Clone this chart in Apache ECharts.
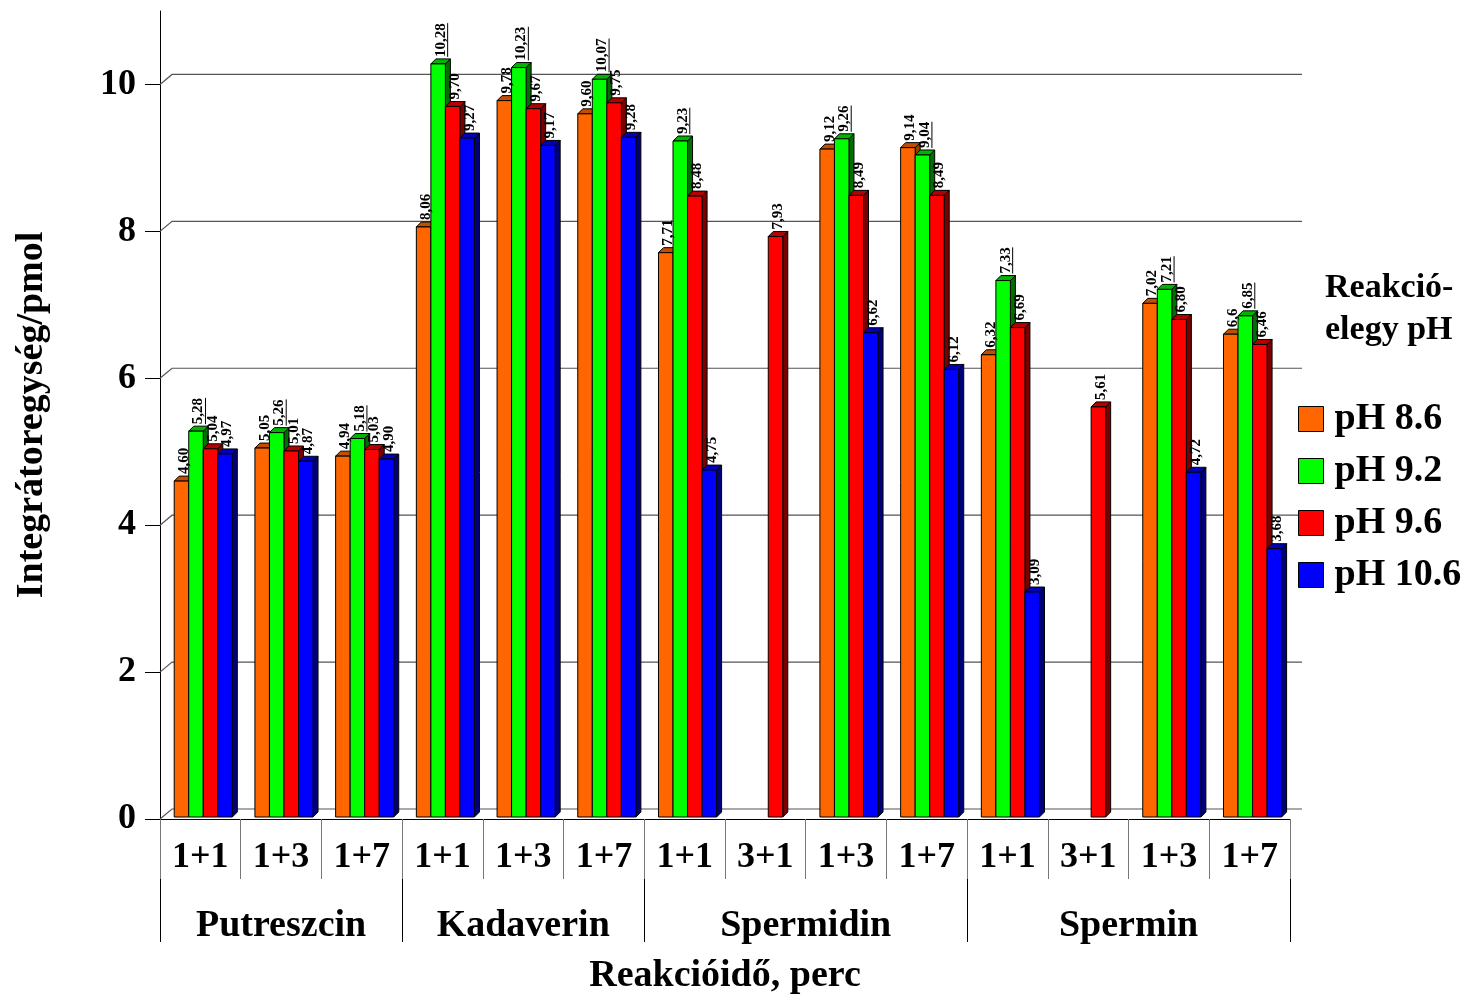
<!DOCTYPE html>
<html><head><meta charset="utf-8">
<script src="https://cdn.jsdelivr.net/npm/echarts@6/dist/echarts.min.js"></script>
<style>html,body{margin:0;padding:0;background:#fff}#c{width:1469px;height:1000px}</style>
</head><body><div id="c"></div>
<script>
// ---- data ----
const categories = ['1+1','1+3','1+7','1+1','1+3','1+7','1+1','3+1','1+3','1+7','1+1','3+1','1+3','1+7'];
const groupNames = ['Putreszcin','Kadaverin','Spermidin','Spermin'];
const groupSizes = [3, 3, 4, 4];
const seriesNames = ['pH 8.6','pH 9.2','pH 9.6','pH 10.6'];
const ph86  = [4.60, 5.05, 4.94, 8.06, 9.78, 9.60, 7.71, null, 9.12, 9.14, 6.32, null, 7.02, 6.6];
const ph92  = [5.28, 5.26, 5.18, 10.28, 10.23, 10.07, 9.23, null, 9.26, 9.04, 7.33, null, 7.21, 6.85];
const ph96  = [5.04, 5.01, 5.03, 9.70, 9.67, 9.75, 8.48, 7.93, 8.49, 8.49, 6.69, 5.61, 6.80, 6.46];
const ph106 = [4.97, 4.87, 4.90, 9.27, 9.17, 9.28, 4.75, null, 6.62, 6.12, 3.09, null, 4.72, 3.68];
const yTicks = [0, 2, 4, 6, 8, 10];
const labelOverrides = { '0-13': '6,6' };   // label printed with one decimal
const underlinedSeries = [1];               // pH 9.2 labels are underlined
const yTitle = 'Integrátoregység/pmol';
const xTitle = 'Reakcióidő, perc';
const legendTitle = 'Reakció-\nelegy pH';

// ---- styles ----
const FONT = '"Liberation Serif", "Times New Roman", serif';
const frontColors = ['#ff6600', '#00ff00', '#ff0000', '#0000ff'];
const topColors   = ['#c24e00', '#00b400', '#b40000', '#0000b4'];
const sideColors  = ['#9a3e00', '#006e00', '#7a0000', '#00007a'];
const DX = 5, DY = 5, GDX = 12, GDY = 10;
const LABEL_FONT = 'bold 15px ' + FONT;
const mctx = document.createElement('canvas').getContext('2d');
mctx.font = LABEL_FONT;

const allSeries = [ph86, ph92, ph96, ph106];
function fmt(v, s, i) {
  const k = s + '-' + i;
  if (labelOverrides[k]) return labelOverrides[k];
  return v.toFixed(2).replace('.', ',');
}

// group boundaries / centers on a 0..N value scale
const bounds = [0]; const centers = [];
groupSizes.forEach(n => { const b = bounds[bounds.length - 1]; centers.push(b + n / 2); bounds.push(b + n); });

function geom(api, s) {
  const ci = api.value(0), v = api.value(1);
  if (v == null || isNaN(v)) return null;
  const catW = api.size([1, 0])[0];
  const bw = catW * 0.18;
  const c = api.coord([ci, 0]);
  const t = api.coord([ci, v]);
  const x0 = c[0] + (s - 1.8) * bw;
  return { ci, v, bw, x0, by: c[1] - 2, ty: t[1] };
}

function barRender(s) {
  return function (params, api) {
    const g = geom(api, s);
    if (!g) return null;
    const { bw, x0, by, ty } = g;
    const stroke = { stroke: '#000', lineWidth: 1 };
    return {
      type: 'group',
      children: [
        { type: 'polygon', shape: { points: [[x0 + bw, ty], [x0 + bw + DX, ty - DY], [x0 + bw + DX, by - DY], [x0 + bw, by]] },
          style: Object.assign({ fill: sideColors[s] }, stroke) },
        { type: 'polygon', shape: { points: [[x0, ty], [x0 + bw, ty], [x0 + bw + DX, ty - DY], [x0 + DX, ty - DY]] },
          style: Object.assign({ fill: topColors[s] }, stroke) },
        { type: 'rect', shape: { x: x0, y: ty, width: bw, height: by - ty },
          style: Object.assign({ fill: frontColors[s] }, stroke) }
      ]
    };
  };
}

function labelRender(s) {
  return function (params, api) {
    const g = geom(api, s);
    if (!g) return null;
    const txt = fmt(g.v, s, g.ci);
    const w = mctx.measureText(txt).width;
    const children = [{ type: 'text', style: { text: txt, font: LABEL_FONT, fill: '#000', align: 'left', verticalAlign: 'middle' } }];
    if (underlinedSeries.indexOf(s) >= 0) {
      children.push({ type: 'line', shape: { x1: 0, y1: 7, x2: w, y2: 7 }, style: { stroke: '#000', lineWidth: 1 } });
    }
    return { type: 'group', x: g.x0 + g.bw / 2 + DX / 2, y: g.ty - DY - 2, rotation: Math.PI / 2, children };
  };
}

const series = [];
// back-wall grid lines
series.push({
  type: 'custom', name: 'grid', silent: true, z: 1,
  data: yTicks.map(v => [0, v]),
  renderItem: function (params, api) {
    const cs = params.coordSys;
    const y = api.coord([0, api.value(1)])[1];
    return { type: 'polyline', shape: { points: [[cs.x, y], [cs.x + GDX, y - GDY], [cs.x + cs.width + GDX, y - GDY]] },
      style: { stroke: '#555', lineWidth: 1.2, fill: null } };
  }
});
allSeries.forEach((arr, s) => {
  series.push({
    type: 'custom', name: seriesNames[s], z: 3,
    itemStyle: { color: frontColors[s], borderColor: '#000', borderWidth: 1 },
    data: arr.map((v, i) => [i, v == null ? '-' : v]),
    renderItem: barRender(s)
  });
});
allSeries.forEach((arr, s) => {
  series.push({
    type: 'custom', name: 'labels' + s, z: 5, silent: true,
    data: arr.map((v, i) => [i, v == null ? '-' : v]),
    renderItem: labelRender(s)
  });
});

const chart = echarts.init(document.getElementById('c'));
chart.setOption({
  animation: false,
  backgroundColor: '#fff',
  grid: { left: 160, right: 179, top: 11, bottom: 178, containLabel: false },
  legend: {
    data: seriesNames, orient: 'vertical', left: 1293, top: 395,
    itemWidth: 25, itemHeight: 25, itemGap: 14, icon: 'rect',
    itemStyle: { borderColor: '#000', borderWidth: 1 },
    textStyle: { fontFamily: FONT, fontWeight: 'bold', fontSize: 38, color: '#000', padding: [0, 0, 0, 6] },
    selectedMode: false
  },
  graphic: [{
    type: 'text', left: 1325, top: 267,
    style: { text: legendTitle, font: 'bold 34px ' + FONT, fill: '#000', lineHeight: 42 }
  }],
  xAxis: [{
    type: 'category', data: categories, position: 'bottom',
    axisLine: { show: true, lineStyle: { color: '#000', width: 1 } },
    axisTick: { show: true, interval: 0, length: 60, lineStyle: { color: '#777', width: 1 } },
    axisLabel: { interval: 0, fontFamily: FONT, fontWeight: 'bold', fontSize: 36, color: '#000', margin: 21 },
    splitLine: { show: false }
  }, {
    type: 'value', min: 0, max: categories.length, interval: 0.5, position: 'bottom', offset: 60,
    axisLine: { show: false },
    axisTick: { show: true, customValues: bounds, length: 63, lineStyle: { color: '#000', width: 1 } },
    axisLabel: {
      customValues: centers, margin: 28, fontFamily: FONT, fontWeight: 'bold', fontSize: 38, color: '#000',
      formatter: function (v) { const k = centers.indexOf(v); return k >= 0 ? groupNames[k] : ''; }
    },
    splitLine: { show: false },
    name: xTitle, nameLocation: 'middle', nameGap: 78,
    nameTextStyle: { fontFamily: FONT, fontWeight: 'bold', fontSize: 38, color: '#000' }
  }],
  yAxis: {
    type: 'value', min: 0, max: 11, interval: 2,
    axisLine: { show: true, lineStyle: { color: '#000', width: 1 } },
    axisTick: { show: true, customValues: yTicks, length: 15, lineStyle: { color: '#000' } },
    axisLabel: {
      customValues: yTicks, margin: 24, fontFamily: FONT, fontWeight: 'bold', fontSize: 36, color: '#000',
      formatter: function (v) { return v > 10 ? '' : String(v); }
    },
    splitLine: { show: false },
    name: yTitle, nameLocation: 'middle', nameGap: 109,
    nameTextStyle: { fontFamily: FONT, fontWeight: 'bold', fontSize: 38, color: '#000' }
  },
  series: series
});
</script>
</body></html>
